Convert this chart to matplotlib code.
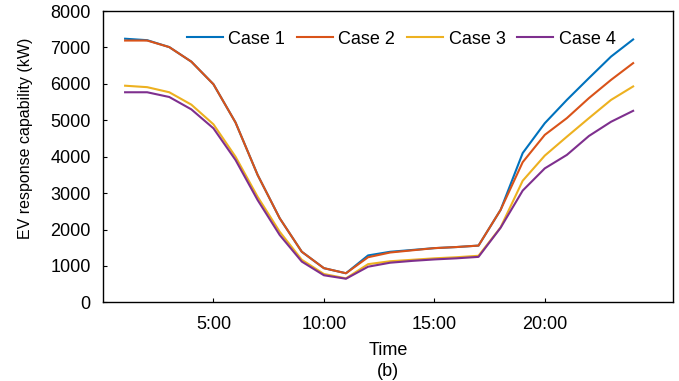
import matplotlib
matplotlib.use("Agg")
import matplotlib.pyplot as plt

plt.rcParams["font.family"] = ["Liberation Sans", "DejaVu Sans"]

# Hourly EV response capability (kW), hours 1..24
hours = list(range(1, 25))
case1 = [7240, 7200, 7010, 6610, 5990, 4940, 3500, 2310, 1390, 940, 800,
         1290, 1390, 1440, 1490, 1520, 1560, 2540, 4100, 4920, 5560, 6160, 6750, 7220]
case2 = [7190, 7190, 7010, 6610, 5990, 4940, 3500, 2310, 1390, 940, 800,
         1240, 1370, 1430, 1490, 1520, 1560, 2540, 3850, 4600, 5060, 5610, 6110, 6570]
case3 = [5950, 5910, 5770, 5430, 4890, 4000, 2900, 1940, 1170, 780, 660,
         1050, 1130, 1170, 1210, 1240, 1280, 2060, 3340, 4030, 4550, 5060, 5560, 5930]
case4 = [5770, 5770, 5640, 5300, 4780, 3910, 2810, 1850, 1120, 745, 650,
         980, 1090, 1140, 1180, 1210, 1250, 2050, 3070, 3680, 4050, 4570, 4960, 5260]

series = [("Case 1", case1, "#0072BD"),
          ("Case 2", case2, "#D95319"),
          ("Case 3", case3, "#EDB120"),
          ("Case 4", case4, "#7E2F8E")]

xticks = [5, 10, 15, 20]
xticklabels = ["5:00", "10:00", "15:00", "20:00"]
yticks = list(range(0, 8001, 1000))

fig = plt.figure(figsize=(6.79, 3.81), dpi=100)
ax = fig.add_axes([0.1517, 0.2063, 0.8393, 0.7647])

for name, vals, color in series:
    ax.plot(hours, vals, color=color, linewidth=1.5, label=name)

ax.set_xlim(0, 25.8)
ax.set_ylim(0, 8000)
ax.set_xticks(xticks)
ax.set_xticklabels(xticklabels)
ax.set_yticks(yticks)
ax.tick_params(direction="in", labelsize=13, length=3, width=0.8)
ax.tick_params(axis="y", pad=9)
ax.tick_params(axis="x", pad=10)
for s in ax.spines.values():
    s.set_linewidth(1.0)

ax.set_ylabel("EV response capability (kW)", fontsize=11.5)
ax.yaxis.set_label_coords(-0.123, 0.564)
ax.set_xlabel("Time\n(b)", fontsize=13, labelpad=6, linespacing=1.3)

ax.legend(loc="center left", bbox_to_anchor=(0.147, 0.904), ncol=4, frameon=False,
          fontsize=13, handlelength=2.0, columnspacing=0.65, handletextpad=0.3,
          borderaxespad=0, borderpad=0)

fig.savefig("out.png", dpi=100)
